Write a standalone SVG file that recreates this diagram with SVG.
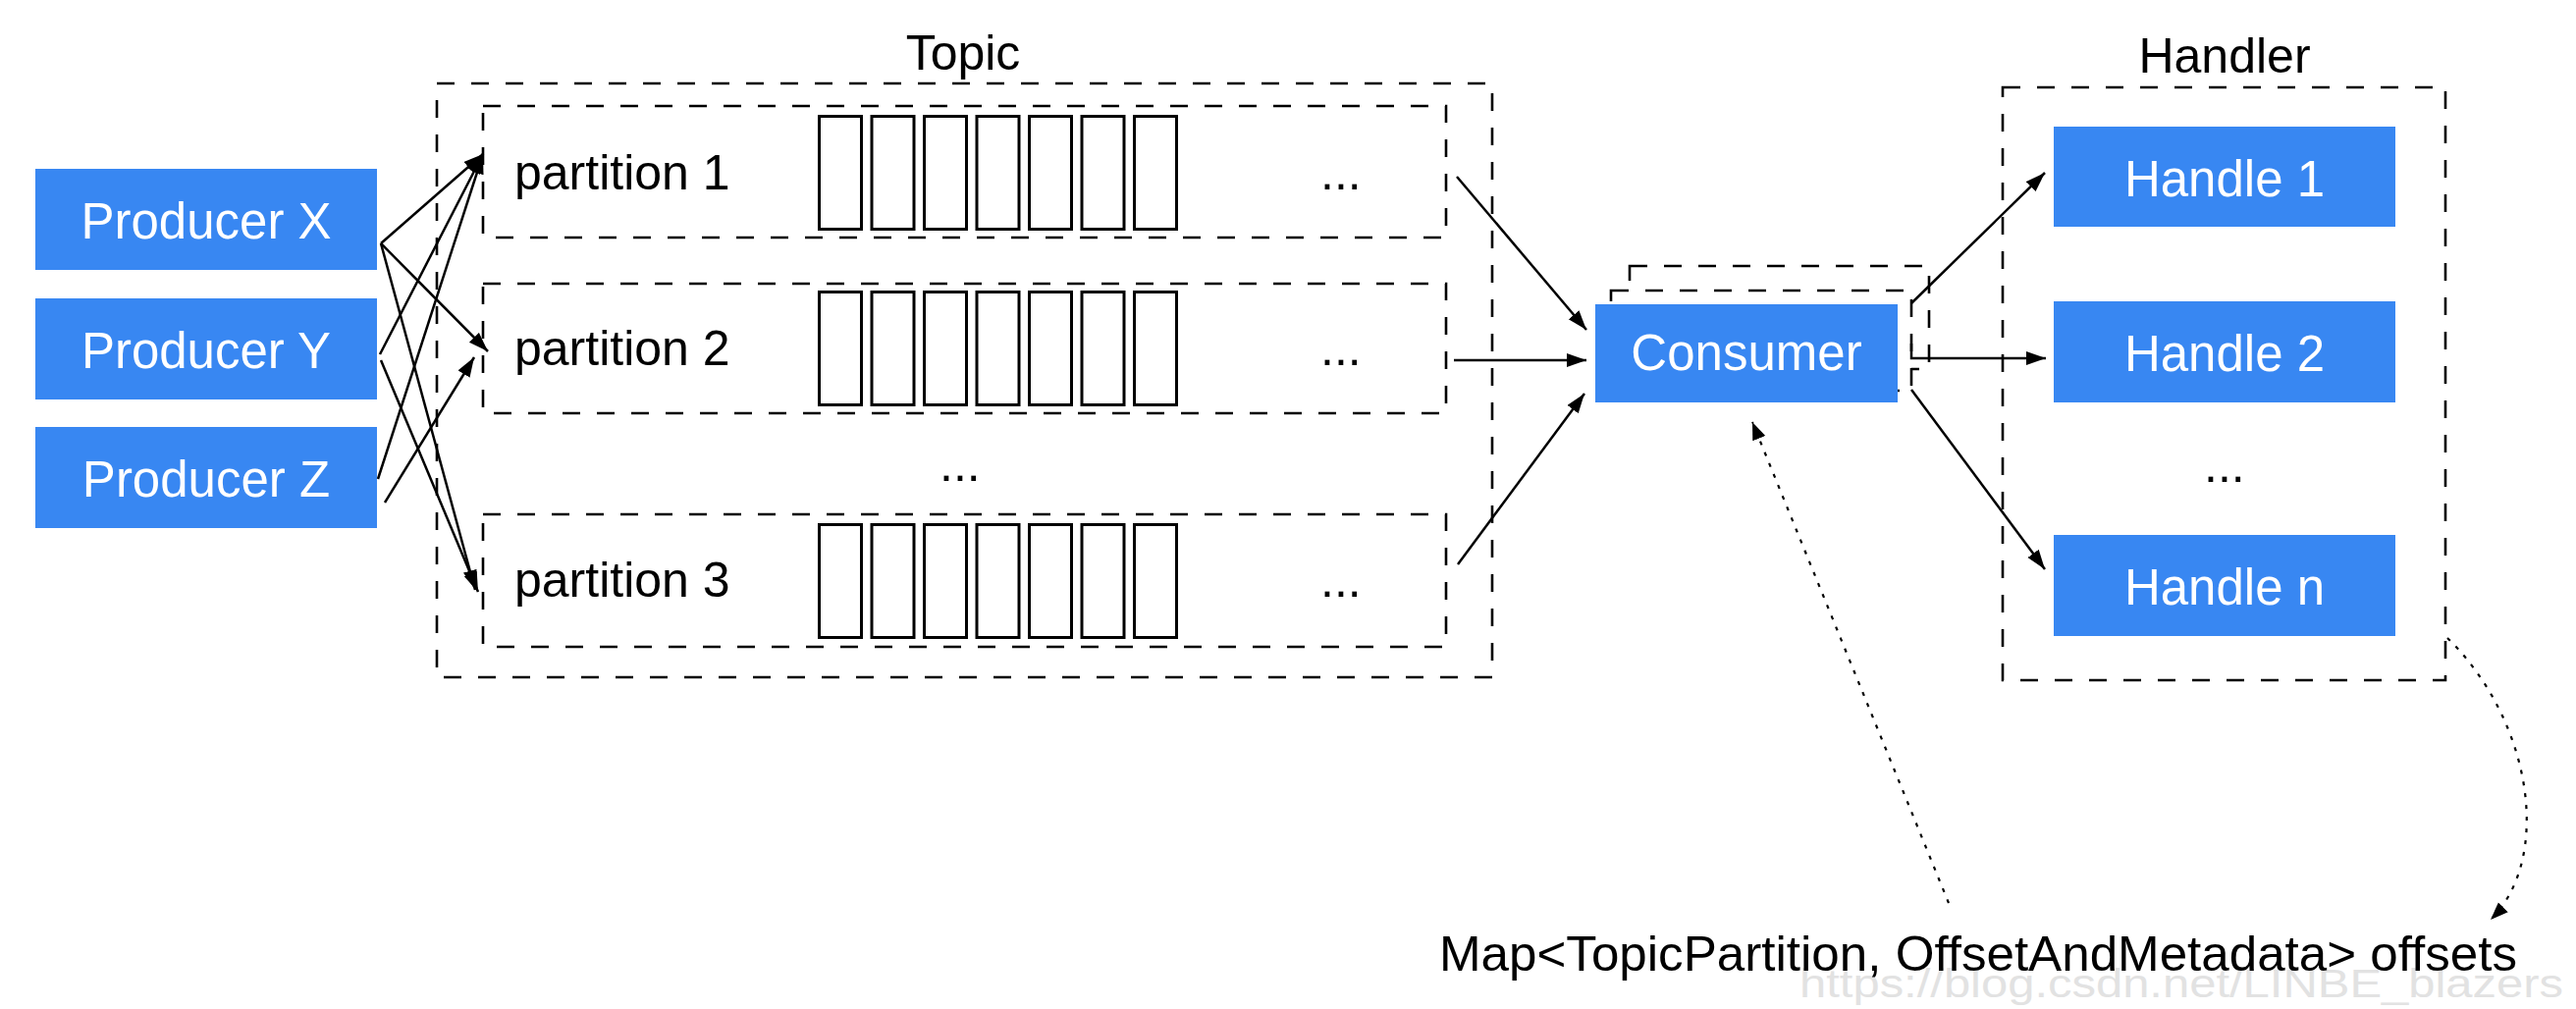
<svg xmlns="http://www.w3.org/2000/svg" width="2624" height="1028" viewBox="0 0 2624 1028">
<style>
.box{fill:#3887F2}
.wt{font-family:"Liberation Sans",Arial,Helvetica,sans-serif;font-size:51px;fill:#ffffff;text-anchor:middle}
.bt{font-family:"Liberation Sans",Arial,Helvetica,sans-serif;font-size:50px;fill:#000000}
.mid{text-anchor:middle}
.dash{fill:none;stroke:#000;stroke-width:2.6;stroke-dasharray:18 17}
.dashw{fill:#fff;stroke:#000;stroke-width:2.6;stroke-dasharray:18 17}
.cell{fill:#fff;stroke:#000;stroke-width:3}
.conn{fill:none;stroke:#000;stroke-width:2.5;marker-end:url(#ah)}
.dot{fill:none;stroke:#000;stroke-width:2.2;stroke-dasharray:4 8;marker-end:url(#ah2)}
.wm{font-family:"Liberation Sans",Arial,sans-serif;font-size:40px;fill:#e2e2e2}
</style>
<defs>
<marker id="ah" markerUnits="userSpaceOnUse" markerWidth="22" markerHeight="16" refX="20" refY="7" orient="auto">
<path d="M0,0 L20,7 L0,14 z" fill="#000"/>
</marker>
<marker id="ah2" markerUnits="userSpaceOnUse" markerWidth="20" markerHeight="16" refX="18" refY="7" orient="auto">
<path d="M0,0 L18,7 L0,14 z" fill="#000"/>
</marker>
<g id="cells">
<rect class="cell" x="834.5" y="1.5" width="43" height="115"/>
<rect class="cell" x="888" y="1.5" width="43" height="115"/>
<rect class="cell" x="941.5" y="1.5" width="43" height="115"/>
<rect class="cell" x="995" y="1.5" width="43" height="115"/>
<rect class="cell" x="1048.5" y="1.5" width="43" height="115"/>
<rect class="cell" x="1102" y="1.5" width="43" height="115"/>
<rect class="cell" x="1155.5" y="1.5" width="43" height="115"/>
</g>
</defs>
<rect x="0" y="0" width="2624" height="1028" fill="#ffffff"/>

<g id="topic">
<rect class="dash" x="445" y="85" width="1075" height="605"/>
<text class="bt mid" x="981" y="71">Topic</text>
<text class="bt" x="957" y="490">...</text>
</g>

<g id="partition-1">
<rect class="dash" x="492" y="108" width="981" height="134"/>
<text class="bt" x="524" y="193">partition 1</text>
<use href="#cells" y="117"/>
<text class="bt" x="1345" y="193">...</text>
</g>
<g id="partition-2">
<rect class="dash" x="492" y="289" width="981" height="132"/>
<text class="bt" x="524" y="372">partition 2</text>
<use href="#cells" y="296"/>
<text class="bt" x="1345" y="372">...</text>
</g>
<g id="partition-3">
<rect class="dash" x="492" y="524" width="981" height="135"/>
<text class="bt" x="524" y="608">partition 3</text>
<use href="#cells" y="533"/>
<text class="bt" x="1345" y="608">...</text>
</g>

<g id="producer-x">
<rect class="box" x="36" y="172" width="348" height="103"/>
<text class="wt" x="210" y="243">Producer X</text>
</g>
<g id="producer-y">
<rect class="box" x="36" y="304" width="348" height="103"/>
<text class="wt" x="210" y="375">Producer Y</text>
</g>
<g id="producer-z">
<rect class="box" x="36" y="435" width="348" height="103"/>
<text class="wt" x="210" y="506">Producer Z</text>
</g>

<g id="consumer">
<rect class="dashw" x="1660" y="271" width="305" height="105"/>
<rect class="dashw" x="1641" y="296" width="306" height="102"/>
<rect class="box" x="1625" y="310" width="308" height="100"/>
<text class="wt" x="1779" y="377">Consumer</text>
</g>

<g id="handler">
<rect class="dash" x="2040" y="89" width="451" height="604"/>
<text class="bt mid" x="2266" y="74">Handler</text>
<text class="bt" x="2245" y="491">...</text>
</g>
<g id="handle-1">
<rect class="box" x="2092" y="129" width="348" height="102"/>
<text class="wt" x="2266" y="200">Handle 1</text>
</g>
<g id="handle-2">
<rect class="box" x="2092" y="307" width="348" height="103"/>
<text class="wt" x="2266" y="378">Handle 2</text>
</g>
<g id="handle-n">
<rect class="box" x="2092" y="545" width="348" height="103"/>
<text class="wt" x="2266" y="616">Handle n</text>
</g>

<g id="connectors">
<line class="conn" x1="388" y1="248" x2="492" y2="157"/>
<line class="conn" x1="388" y1="248" x2="497" y2="358"/>
<line class="conn" x1="388" y1="248" x2="484" y2="601"/>
<line class="conn" x1="387" y1="361" x2="492" y2="157"/>
<line class="conn" x1="388" y1="367" x2="487" y2="603"/>
<line class="conn" x1="385" y1="488" x2="492" y2="157"/>
<line class="conn" x1="392" y1="512" x2="483" y2="364"/>
<line class="conn" x1="1484" y1="180" x2="1616" y2="336"/>
<line class="conn" x1="1481" y1="367" x2="1616" y2="367"/>
<line class="conn" x1="1485" y1="575" x2="1614" y2="401"/>
<line class="conn" x1="1947" y1="309" x2="2083" y2="176"/>
<polyline class="conn" points="1947,350 1947,365 2084,365"/>
<line class="conn" x1="1947" y1="397" x2="2083" y2="580"/>
<line class="dot" x1="1985" y1="920" x2="1785" y2="430"/>
<path class="dot" d="M2493,650 C2580,735 2600,875 2537,937"/>
</g>

<g id="offsets">
<text class="wm" x="1833" y="1016" textLength="778" lengthAdjust="spacingAndGlyphs">https://blog.csdn.net/LINBE_blazers</text>
<text class="bt" x="1466" y="989" textLength="1098" lengthAdjust="spacingAndGlyphs">Map&lt;TopicPartition, OffsetAndMetadata&gt; offsets</text>
</g>
</svg>
